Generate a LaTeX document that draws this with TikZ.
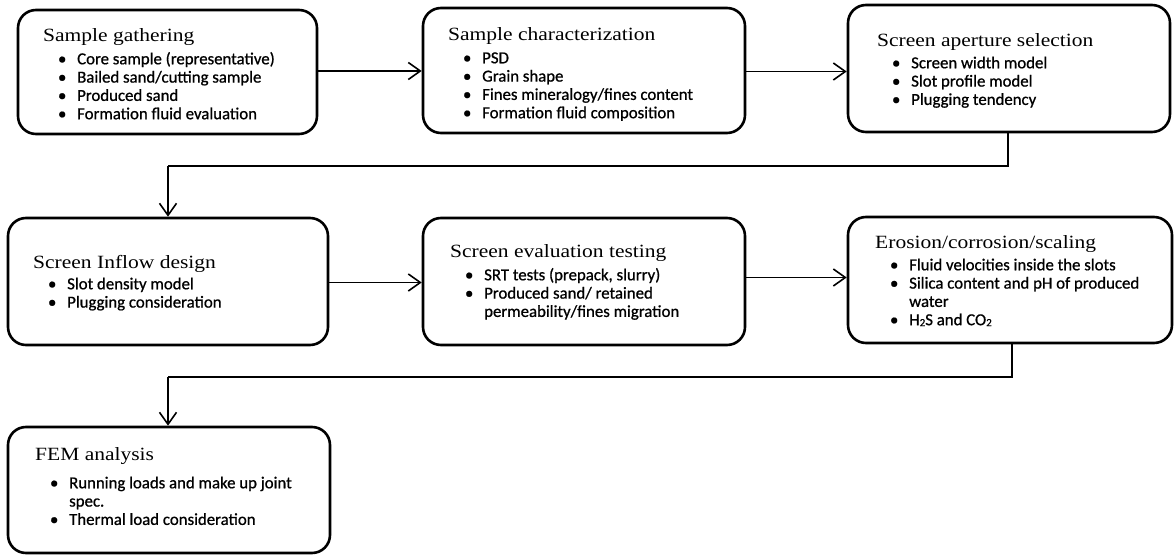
\documentclass[tikz,border=0pt]{standalone}
\usepackage{fontspec}
\setmainfont{Liberation Serif}
\newfontfamily\ttlfont[FakeStretch=1.15]{Liberation Serif}
\newfontfamily\bfont[FakeBold=0.8]{Carlito}
\usetikzlibrary{arrows.meta,fit}
\newcommand\bi{\par\hangindent=34pt\hangafter=1\hspace*{15pt}\makebox[8pt][c]{\textbullet}\hspace*{11pt}}
\newcommand\btxt[3]{\begin{minipage}[t]{330pt}\lineskiplimit=-100pt
{\ttlfont\fontsize{18.7pt}{20pt}\selectfont #2\par}\vspace{#1}%
\bfont\fontsize{16.8pt}{18.3pt}\selectfont #3\par\end{minipage}}
\newcommand\sub[1]{\raisebox{-1pt}{\fontsize{11pt}{11pt}\selectfont #1}}
\tikzset{
  box/.style={draw, line width=2.6pt, rounded corners=18pt, inner sep=0pt},
  conn/.style={line width=1.6pt, -{Straight Barb[length=12pt,width=17pt,line width=1.6pt]}},
  txt/.style={anchor=base west, inner sep=0pt}
}
\begin{document}
\begin{tikzpicture}[x=1pt,y=-1pt]
\useasboundingbox (0,0) rectangle (1175,556);
% boxes
\node[box, fit={(18,10) (317,134)}] (b1) {};
\node[box, fit={(423,8) (745,133)}] (b2) {};
\node[box, fit={(848,5) (1170,132)}] (b3) {};
\node[box, fit={(8,218) (328,345)}] (b4) {};
\node[box, fit={(423,218) (745,345)}] (b5) {};
\node[box, fit={(848,217) (1172,343)}] (b6) {};
\node[box, fit={(8,427) (330,553)}] (b7) {};
% texts
\node[txt] (t1) at (43,42) {\btxt{4pt}{Sample gathering}{%
  \bi Core sample (representative)
  \bi Bailed sand/cutting sample
  \bi Produced sand
  \bi Formation fluid evaluation}};
\node[txt] (t2) at (448,41) {\btxt{4pt}{Sample characterization}{%
  \bi PSD
  \bi Grain shape
  \bi Fines mineralogy/fines content
  \bi Formation fluid composition}};
\node[txt] (t3) at (877,47) {\btxt{3pt}{Screen aperture selection}{%
  \bi Screen width model
  \bi Slot profile model
  \bi Plugging tendency}};
\node[txt] (t4) at (33,268) {\btxt{3pt}{Screen Inflow design}{%
  \bi Slot density model
  \bi Plugging consideration}};
\node[txt] (t5) at (450,258) {\btxt{4pt}{Screen evaluation testing}{%
  \bi SRT tests (prepack, slurry)
  \bi Produced sand/ retained\newline permeability/fines migration}};
\node[txt] (t6) at (875,248) {\btxt{4pt}{Erosion/corrosion/scaling}{%
  \bi Fluid velocities inside the slots
  \bi Silica content and pH of produced\newline water
  \bi H\sub{2}S and CO\sub{2}}};
\node[txt] (t7) at (35,460) {\btxt{10pt}{FEM analysis}{%
  \bi Running loads and make up joint\newline spec.
  \bi Thermal load consideration}};
% connectors
\coordinate (k1) at (1008,166);
\coordinate (k2) at (168,166);
\coordinate (k3) at (1012,377);
\coordinate (k4) at (168,377);
\draw[conn] ([yshift=1pt]b1.east) -- ([yshift=1pt]b1.east -| b2.west);
\draw[conn] ([yshift=-1pt]b2.east) -- ([yshift=-1pt]b2.east -| b3.west);
\draw[line width=1.6pt] (b3.south -| k1) -- (k1) -- (k2);
\draw[conn] (k2) -- (k2 |- b4.north);
\draw[conn] ([yshift=-1pt]b4.east) -- ([yshift=-1pt]b4.east -| b5.west);
\draw[conn] ([yshift=4pt]b5.east) -- ([yshift=4pt]b5.east -| b6.west);
\draw[line width=1.6pt] (b6.south -| k3) -- (k3) -- (k4);
\draw[conn] (k4) -- (k4 |- b7.north);
\end{tikzpicture}
\end{document}
